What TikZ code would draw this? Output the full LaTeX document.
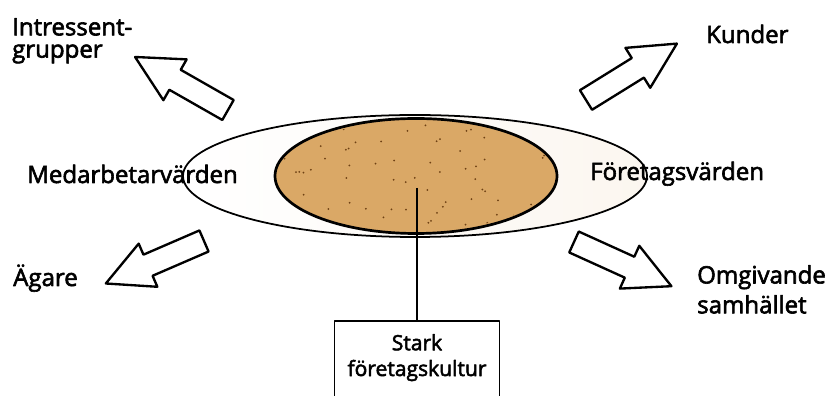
\documentclass[tikz,border=0pt]{standalone}
\usepackage{fontspec}
\setmainfont{Open Sans}[FakeBold=2.5]
\usetikzlibrary{positioning, shapes.geometric}
\definecolor{KulturColor}{RGB}{218,168,102}
\definecolor{SpeckColor}{RGB}{110,65,20}

\begin{document}
\begin{tikzpicture}[x=0.03cm, y=0.03cm, line join=round,
    etikett/.style={font=\fontsize{20.5}{19}\selectfont, inner sep=0pt, align=left},
    boxtext/.style={font=\fontsize{18}{22}\selectfont, inner sep=0pt, align=center},
    pil/.pic={\draw[line width=2pt, fill=white] (0,-11.5) -- (61,-11.5) -- (61,-23.5)
        -- (107,0) -- (61,23.5) -- (61,11.5) -- (0,11.5) -- cycle;}]
    \useasboundingbox (0,0) rectangle (835,396);
    \clip (0,0) rectangle (835,396);
    % Values ellipse
    \node[ellipse, draw, line width=1.5pt, inner sep=0pt, minimum width=13.92cm, minimum height=3.66cm,
        left color=white, right color=KulturColor!10] (varden) at (415,220) {};
    % Culture core
    \node[ellipse, draw, line width=2.3pt, inner sep=0pt, minimum width=8.46cm, minimum height=3.45cm,
        fill=KulturColor] (kultur) at (416,220) {};
    \begin{scope}
        \clip (416,220) ellipse [x radius=139, y radius=55];
        \pgfmathsetseed{7}
        \foreach \k in {1,...,70} {\fill[SpeckColor] (416+140*rand, 220+57*rand) circle (1);}
    \end{scope}
    % Box and stem
    \node[draw, line width=1.6pt, inner sep=0pt, minimum width=4.95cm, minimum height=3.3cm, anchor=north] (ram) at (417,76) {};
    \node[boxtext, below=0.42cm of ram.north] (stark) {Stark\\företagskultur};
    \coordinate (mitt) at (417,208);
    \draw[line width=1.8pt] (mitt) -- (ram.north);
    % Block arrows
    \pic[rotate=150.3] at (228,286) {pil};
    \pic[rotate=31.8] at (586,296) {pil};
    \pic[rotate=203.4] at (204,155) {pil};
    \pic[rotate=335.6] at (574,154) {pil};
    % Labels
    \node[etikett, anchor=north west] (intressent) at (12,378) {Intressent-\\grupper};
    \node[etikett, anchor=base west] (kunder) at (706,353) {Kunder};
    \node[etikett, anchor=base west] (medarbetare) at (27,213) {Medarbetarvärden};
    \node[etikett, anchor=base west] (foretag) at (590,216) {Företagsvärden};
    \node[etikett, anchor=base west] (agare) at (13,110) {Ägare};
    \node[etikett, anchor=north west] (omgivande) at (697,131) {Omgivande\\[4pt]samhället};
\end{tikzpicture}
\end{document}
